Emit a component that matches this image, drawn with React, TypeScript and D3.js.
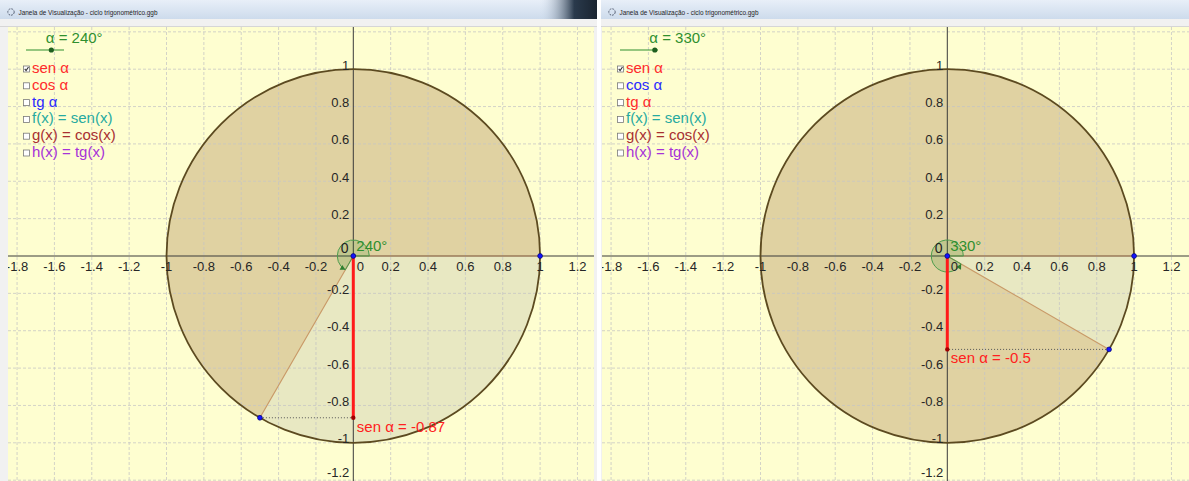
import { useEffect, useRef } from 'react';
import * as d3 from 'd3';

const W = 1189;
const H = 481;
const TITLE = 'Janela de Visualização - ciclo trigonométrico.ggb';
const ALPHAS = [240, 330];
const SEN_LABELS = ['sen α = -0.87', 'sen α = -0.5'];
const X_TICKS = [-1.8, -1.6, -1.4, -1.2, -1, -0.8, -0.6, -0.4, -0.2, 0.2, 0.4, 0.6, 0.8, 1, 1.2];
const X_TICK_LABELS = ['-1.8', '-1.6', '-1.4', '-1.2', '-1', '-0.8', '-0.6', '-0.4', '-0.2', '0.2', '0.4', '0.6', '0.8', '1', '1.2'];
const Y_TICKS = [1, 0.8, 0.6, 0.4, 0.2, -0.2, -0.4, -0.6, -0.8, -1, -1.2];
const Y_TICK_LABELS = ['1', '0.8', '0.6', '0.4', '0.2', '-0.2', '-0.4', '-0.6', '-0.8', '-1', '-1.2'];
const CHECK_LABELS = ['sen α', 'cos α', 'tg α', 'f(x) = sen(x)', 'g(x) = cos(x)', 'h(x) = tg(x)'];
const CHECKED = [true, false, false, false, false, false];
const CHECK_COLORS = [
  ['#ff2b2b', '#ff2b2b', '#2a2aff', '#26aaa0', '#a83030', '#a632d8'],
  ['#ff2b2b', '#2a2aff', '#ff2b2b', '#26aaa0', '#a83030', '#a632d8'],
];

// window layout: title bar span and yellow plot span
const PANELS = [
  { t0: 0, t1: 597, left: 8, right: 594 },
  { t0: 601, t1: W, left: 602, right: W },
];
const TOP = 27;
const OY = 256;
const U = 186.8;
const GREEN = '#2f8f2f';

export default function App() {
  const ref = useRef<SVGSVGElement>(null);

  useEffect(() => {
    const svg = d3.select(ref.current);
    svg.selectAll('*').remove();
    const font = '"Liberation Sans", Arial, sans-serif';

    const defs = svg.append('defs');
    const tb = defs.append('linearGradient').attr('id', 'tb').attr('x1', 0).attr('y1', 0).attr('x2', 0).attr('y2', 1);
    tb.append('stop').attr('offset', 0).attr('stop-color', '#e8eff8');
    tb.append('stop').attr('offset', 1).attr('stop-color', '#cddbec');
    const dk = defs.append('linearGradient').attr('id', 'dk').attr('x1', 0).attr('y1', 0).attr('x2', 1).attr('y2', 0);
    dk.append('stop').attr('offset', 0).attr('stop-color', '#cddbec').attr('stop-opacity', 0);
    dk.append('stop').attr('offset', 0.6).attr('stop-color', '#2a3a4c');
    dk.append('stop').attr('offset', 1).attr('stop-color', '#1a2430');

    svg.append('rect').attr('width', W).attr('height', H).attr('fill', '#ffffff');

    PANELS.forEach((p, i) => {
      const alpha = (ALPHAS[i] * Math.PI) / 180;
      const ox = p.left + 345.3;
      const x = d3.scaleLinear().domain([0, 1]).range([ox, ox + U]);
      const y = d3.scaleLinear().domain([0, 1]).range([OY, OY - U]);

      // ── window chrome ─────────────────────────────
      svg.append('rect').attr('x', p.t0).attr('y', 0).attr('width', p.t1 - p.t0).attr('height', 19).attr('fill', 'url(#tb)');
      if (i === 0) svg.append('rect').attr('x', 540).attr('y', 0).attr('width', 57).attr('height', 19).attr('fill', 'url(#dk)');
      svg.append('rect').attr('x', p.t0).attr('y', 19).attr('width', p.t1 - p.t0).attr('height', H - 19).attr('fill', '#f1f1f1');
      svg.append('line').attr('x1', p.t0).attr('x2', p.t1).attr('y1', 26.5).attr('y2', 26.5).attr('stroke', '#d6d6d6');
      svg.append('circle').attr('cx', p.t0 + 11).attr('cy', 12).attr('r', 3.2)
        .attr('fill', 'none').attr('stroke', '#5a6478').attr('stroke-width', 1).attr('stroke-dasharray', '2,1');
      svg.append('text').attr('x', p.t0 + 18.5).attr('y', 15).attr('font-family', font).attr('font-size', 7.5)
        .attr('fill', '#1e1e1e').attr('textLength', 139).attr('lengthAdjust', 'spacingAndGlyphs').text(TITLE);

      // ── plot area ─────────────────────────────────
      const clipId = `clip${i}`;
      defs.append('clipPath').attr('id', clipId).append('rect')
        .attr('x', p.left).attr('y', TOP).attr('width', p.right - p.left).attr('height', H - TOP);
      const g = svg.append('g').attr('clip-path', `url(#${clipId})`);
      g.append('rect').attr('x', p.left).attr('y', TOP).attr('width', p.right - p.left).attr('height', H - TOP).attr('fill', '#fefed0');

      // circle and sector fills
      g.append('circle').attr('cx', x(0)).attr('cy', y(0)).attr('r', x(1) - x(0)).attr('fill', '#e8e8c2');
      const sector = d3.arc()({ innerRadius: 0, outerRadius: x(1) - x(0), startAngle: Math.PI / 2 - alpha, endAngle: Math.PI / 2 } as any);
      g.append('path').attr('d', sector).attr('transform', `translate(${x(0)},${y(0)})`).attr('fill', '#e0d2a2');

      // grid
      d3.range(-2, 1.41, 0.2).forEach(v => {
        if (Math.abs(v) < 1e-6) return;
        g.append('line').attr('x1', x(v)).attr('x2', x(v)).attr('y1', TOP).attr('y2', H)
          .attr('stroke', '#c4c4c4').attr('stroke-dasharray', '3,2').attr('stroke-opacity', 0.75);
      });
      d3.range(-1.2, 1.21, 0.2).forEach(v => {
        if (Math.abs(v) < 1e-6) return;
        g.append('line').attr('x1', p.left).attr('x2', p.right).attr('y1', y(v)).attr('y2', y(v))
          .attr('stroke', '#c4c4c4').attr('stroke-dasharray', '3,2').attr('stroke-opacity', 0.75);
      });

      // axes
      g.append('line').attr('x1', p.left).attr('x2', p.right).attr('y1', y(0)).attr('y2', y(0)).attr('stroke', '#3a3a3a');
      g.append('line').attr('x1', x(0)).attr('x2', x(0)).attr('y1', TOP).attr('y2', H).attr('stroke', '#3a3a3a');

      // sector edges
      const px = Math.cos(alpha);
      const py = Math.sin(alpha);
      g.append('path')
        .attr('d', `M${x(1)},${y(0)}L${x(0)},${y(0)}L${x(px)},${y(py)}`)
        .attr('fill', 'none').attr('stroke', '#c99a68').attr('stroke-width', 1.2);

      // circle outline
      g.append('circle').attr('cx', x(0)).attr('cy', y(0)).attr('r', x(1) - x(0))
        .attr('fill', 'none').attr('stroke', '#5c4a20').attr('stroke-width', 1.8);

      // angle marker
      const ar = 16;
      const marker = d3.arc()({ innerRadius: 0, outerRadius: ar, startAngle: Math.PI / 2 - alpha, endAngle: Math.PI / 2 } as any);
      g.append('path').attr('d', marker).attr('transform', `translate(${x(0)},${y(0)})`)
        .attr('fill', 'rgba(40,140,40,0.16)').attr('stroke', '#4d9d4d').attr('stroke-width', 1);
      const tipX = x(0) + ar * Math.cos(alpha);
      const tipY = y(0) - ar * Math.sin(alpha);
      const dx = -Math.sin(alpha);
      const dy = -Math.cos(alpha);
      const nx = Math.cos(alpha);
      const ny = -Math.sin(alpha);
      const s = 5;
      g.append('path')
        .attr('d', `M${tipX},${tipY}L${tipX - dx * s + nx * s * 0.55},${tipY - dy * s + ny * s * 0.55}L${tipX - dx * s - nx * s * 0.55},${tipY - dy * s - ny * s * 0.55}Z`)
        .attr('fill', '#2f7f2f');

      // sine segment and projection
      g.append('line').attr('x1', x(px)).attr('x2', x(0)).attr('y1', y(py)).attr('y2', y(py))
        .attr('stroke', '#555').attr('stroke-dasharray', '1,2');
      g.append('line').attr('x1', x(0)).attr('x2', x(0)).attr('y1', y(0)).attr('y2', y(py))
        .attr('stroke', '#ff1a1a').attr('stroke-width', 3);

      // points
      g.append('circle').attr('cx', x(0)).attr('cy', y(py)).attr('r', 2.2).attr('fill', '#a00000');
      [[0, 0], [1, 0], [px, py]].forEach(([a, b]) => {
        g.append('circle').attr('cx', x(a)).attr('cy', y(b)).attr('r', 2.4)
          .attr('fill', '#1414ff').attr('stroke', '#000070').attr('stroke-width', 0.7);
      });

      // tick labels
      X_TICKS.forEach((v, k) => {
        g.append('text').attr('x', x(v)).attr('y', y(0) + 15).attr('text-anchor', 'middle')
          .attr('font-family', font).attr('font-size', 13).attr('fill', '#262626').text(X_TICK_LABELS[k]);
      });
      g.append('text').attr('x', x(0) + 3.5).attr('y', y(0) + 15)
        .attr('font-family', font).attr('font-size', 13).attr('fill', '#262626').text('0');
      Y_TICKS.forEach((v, k) => {
        g.append('text').attr('x', x(0) - 4).attr('y', Math.min(y(v) + 0.5, H - 4)).attr('text-anchor', 'end')
          .attr('font-family', font).attr('font-size', 13).attr('fill', '#262626').text(Y_TICK_LABELS[k]);
      });

      // point / angle labels
      g.append('text').attr('x', x(0) - 12.5).attr('y', y(0) - 3).attr('font-family', font).attr('font-size', 14)
        .attr('fill', '#222').text('0');
      g.append('text').attr('x', x(0) + 3).attr('y', y(0) - 5).attr('font-family', font).attr('font-size', 15)
        .attr('fill', GREEN).text(`${ALPHAS[i]}°`);
      g.append('text').attr('x', x(0) + 3.5).attr('y', y(py) + 14).attr('font-family', font).attr('font-size', 15)
        .attr('fill', '#ff2020').text(SEN_LABELS[i]);

      // slider
      const sl0 = p.left + 18;
      const sl1 = p.left + 56;
      const dot = sl0 + ((sl1 - sl0) * ALPHAS[i]) / 360;
      g.append('line').attr('x1', sl0).attr('x2', sl1).attr('y1', 50).attr('y2', 50).attr('stroke', GREEN).attr('stroke-width', 1);
      g.append('circle').attr('cx', dot).attr('cy', 50).attr('r', 2.6).attr('fill', '#1f5f1f');
      g.append('text').attr('x', dot - 5.5).attr('y', 43).attr('font-family', font).attr('font-size', 15)
        .attr('fill', GREEN).text(`α = ${ALPHAS[i]}°`);

      // checkboxes
      CHECK_LABELS.forEach((lab, k) => {
        const base = 73 + k * 16.8;
        const bx = p.left + 15.5;
        g.append('rect').attr('x', bx).attr('y', base - 7).attr('width', 6).attr('height', 6)
          .attr('fill', '#fff').attr('stroke', '#7a7a7a').attr('stroke-width', 0.8);
        if (CHECKED[k]) {
          g.append('path').attr('d', `M${bx + 1.2},${base - 4.2}L${bx + 2.6},${base - 2.4}L${bx + 5},${base - 6}`)
            .attr('fill', 'none').attr('stroke', '#333').attr('stroke-width', 1.1);
        }
        g.append('text').attr('x', p.left + 24).attr('y', base).attr('font-family', font).attr('font-size', 15)
          .attr('fill', CHECK_COLORS[i][k]).text(lab);
      });
    });
  }, []);

  return <svg ref={ref} width={W} height={H} style={{ position: 'absolute', left: 0, top: 0 }} />;
}
